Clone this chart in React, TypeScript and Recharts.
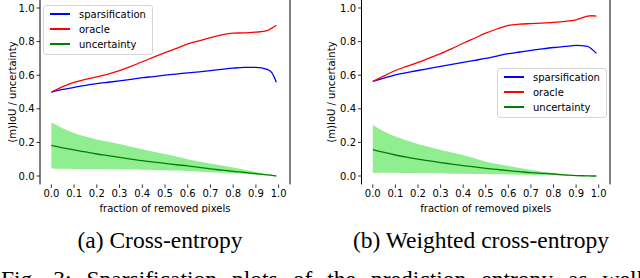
import React from 'react';
import { ComposedChart, Line, Area, XAxis, YAxis, ReferenceLine, Legend } from 'recharts';

const fractions = [0, 0.05, 0.1, 0.15, 0.2, 0.25, 0.3, 0.35, 0.4, 0.45, 0.5, 0.55, 0.6, 0.65, 0.7, 0.75, 0.8, 0.85, 0.9, 0.95, 0.97, 0.99];

const sparsA = [0.50, 0.515, 0.528, 0.54, 0.55, 0.558, 0.566, 0.575, 0.585, 0.592, 0.60, 0.607, 0.614, 0.62, 0.627, 0.635, 0.642, 0.646, 0.646, 0.635, 0.615, 0.558];
const oracleA = [0.50, 0.532, 0.558, 0.575, 0.59, 0.607, 0.627, 0.652, 0.68, 0.707, 0.734, 0.76, 0.786, 0.805, 0.823, 0.84, 0.85, 0.852, 0.856, 0.866, 0.88, 0.897];
const meanA = [0.182, 0.168, 0.155, 0.143, 0.131, 0.121, 0.111, 0.101, 0.091, 0.083, 0.075, 0.067, 0.06, 0.051, 0.042, 0.035, 0.028, 0.021, 0.014, 0.007, 0.004, 0.0];
const upperA = [0.32, 0.284, 0.256, 0.235, 0.218, 0.204, 0.19, 0.174, 0.159, 0.145, 0.131, 0.116, 0.10, 0.087, 0.075, 0.062, 0.05, 0.037, 0.024, 0.011, 0.006, 0.0];
const lowerA = [0.045, 0.043, 0.042, 0.041, 0.041, 0.04, 0.04, 0.038, 0.037, 0.036, 0.034, 0.032, 0.03, 0.026, 0.022, 0.019, 0.016, 0.012, 0.008, 0.004, 0.002, 0.0];

const sparsB = [0.563, 0.583, 0.602, 0.615, 0.628, 0.64, 0.652, 0.664, 0.676, 0.688, 0.70, 0.714, 0.728, 0.738, 0.748, 0.757, 0.765, 0.771, 0.777, 0.772, 0.755, 0.73];
const oracleB = [0.563, 0.596, 0.628, 0.652, 0.676, 0.702, 0.728, 0.758, 0.79, 0.82, 0.85, 0.875, 0.897, 0.904, 0.907, 0.91, 0.914, 0.92, 0.93, 0.952, 0.954, 0.952];
const meanB = [0.157, 0.14, 0.125, 0.112, 0.10, 0.09, 0.08, 0.071, 0.062, 0.054, 0.046, 0.039, 0.032, 0.026, 0.02, 0.016, 0.012, 0.007, 0.002, 0.001, 0.0, 0.0];
const upperB = [0.304, 0.265, 0.235, 0.211, 0.19, 0.172, 0.155, 0.14, 0.125, 0.105, 0.085, 0.072, 0.06, 0.048, 0.036, 0.026, 0.016, 0.008, 0.002, 0.001, 0.0, 0.0];
const lowerB = [0.018, 0.02, 0.02, 0.018, 0.017, 0.016, 0.016, 0.014, 0.013, 0.012, 0.012, 0.01, 0.009, 0.008, 0.008, 0.006, 0.004, 0.002, 0.0, 0.0, 0.0, 0.0];

const xTicks = [0, 0.1, 0.2, 0.3, 0.4, 0.5, 0.6, 0.7, 0.8, 0.9, 1.0];
const yTicks = [0, 0.2, 0.4, 0.6, 0.8, 1.0];
const seriesNames = ['sparsification', 'oracle', 'uncertainty'];
const seriesColors = ['#0000ff', '#ff0000', '#008000'];
const captionA = '(a) Cross-entropy';
const captionB = '(b) Weighted cross-entropy';
const figCaption = 'Fig. 3: Sparsification plots of the prediction entropy as well';
const xLabel = 'fraction of removed pixels';
const yLabel = '(m)IoU / uncertainty';

function build(spars: number[], oracle: number[], mean: number[], lo: number[], hi: number[]) {
  return fractions.map((f, i) => ({ f, spars: spars[i], oracle: oracle[i], mean: mean[i], band: [lo[i], hi[i]] }));
}

const dataA = build(sparsA, oracleA, meanA, lowerA, upperA);
const dataB = build(sparsB, oracleB, meanB, lowerB, upperB);

const FONT = '"DejaVu Sans", sans-serif';
const SERIF = '"Liberation Serif", "Times New Roman", serif';

const LegendBox = () => (
  <div style={{
    width: 110, boxSizing: 'border-box', border: '1px solid #d6d6d6', borderRadius: 3,
    background: 'rgba(255,255,255,0.8)', paddingTop: 0.5, paddingBottom: 2, fontFamily: FONT, fontSize: 10, color: '#000',
  }}>
    {seriesNames.map((n, i) => (
      <div key={n} style={{ height: 15, display: 'flex', alignItems: 'center' }}>
        <div style={{ marginLeft: 6, width: 20, height: 1.4, background: seriesColors[i] }} />
        <div style={{ marginLeft: 9, lineHeight: '15px' }}>{n}</div>
      </div>
    ))}
  </div>
);

function Panel({ data, left, marginLeft, legendPos, labelDx }: any) {
  return (
    <div style={{ position: 'absolute', left, top: -20, width: 320, height: 233 }}>
      <ComposedChart width={320} height={233} data={data}
        margin={{ top: 19.6, left: marginLeft, right: 30, bottom: 0.6 }}>
        <XAxis dataKey="f" type="number" domain={[-0.05, 1.05]} ticks={xTicks} interval={0}
          allowDataOverflow tickFormatter={(v: number) => v.toFixed(1)} axisLine={false}
          tickLine={{ stroke: '#000', strokeWidth: 0.8 }} tickSize={3.5} tickMargin={1.5}
          tick={{ fontSize: 10, fontFamily: FONT, fill: '#000' }} height={28}
          label={{ value: xLabel, position: 'insideBottom', offset: 0, fontSize: 10, fontFamily: FONT, fill: '#000' }} />
        <YAxis type="number" domain={[-0.05, 1.05]} ticks={yTicks} allowDataOverflow width={30}
          tickFormatter={(v: number) => v.toFixed(1)} axisLine={{ stroke: '#000', strokeWidth: 1 }}
          tickLine={{ stroke: '#000', strokeWidth: 0.8 }} tickSize={3.5} tickMargin={2}
          tick={{ fontSize: 10, fontFamily: FONT, fill: '#000' }}
          label={{ value: yLabel, angle: -90, position: 'center', dx: labelDx, fontSize: 10, fontFamily: FONT, fill: '#000' }} />
        <ReferenceLine x={1.05} stroke="#000" strokeWidth={1} ifOverflow="visible" />
        <Area dataKey="band" type="monotone" stroke="none" fill="#90ee90" fillOpacity={1} isAnimationActive={false} legendType="none" />
        <Line dataKey="spars" name={seriesNames[0]} type="monotone" stroke={seriesColors[0]} strokeWidth={1.3} dot={false} isAnimationActive={false} />
        <Line dataKey="oracle" name={seriesNames[1]} type="monotone" stroke={seriesColors[1]} strokeWidth={1.3} dot={false} isAnimationActive={false} />
        <Line dataKey="mean" name={seriesNames[2]} type="monotone" stroke={seriesColors[2]} strokeWidth={1.3} dot={false} isAnimationActive={false} />
        <Legend layout="horizontal" verticalAlign="middle" align="center" content={() => <LegendBox />}
          wrapperStyle={{ position: 'absolute', left: legendPos[0], top: legendPos[1], width: 110, height: 48 }} />
      </ComposedChart>
    </div>
  );
}

const captionStyle: React.CSSProperties = {
  position: 'absolute', top: 228.5, fontFamily: SERIF, fontSize: 23.5,
  lineHeight: '23.5px', color: '#000', whiteSpace: 'nowrap', transform: 'translateX(-50%)',
};

export default function App() {
  return (
    <div style={{ position: 'absolute', left: 0, top: 0, width: 640, height: 278, overflow: 'hidden', background: '#fff' }}>
      <Panel data={dataA} left={0} marginLeft={10} legendPos={[43, 25]} labelDx={-13} />
      <Panel data={dataB} left={320} marginLeft={11.5} legendPos={[177, 88]} labelDx={-15} />
      <div style={{ ...captionStyle, left: 160 }}>{captionA}</div>
      <div style={{ ...captionStyle, left: 481 }}>{captionB}</div>
      <div style={{
        position: 'absolute', top: 268, left: 1, width: 642, fontFamily: SERIF,
        fontSize: 23.5, lineHeight: '23.5px', color: '#000', textAlign: 'justify', textAlignLast: 'justify', whiteSpace: 'nowrap',
      }}>{figCaption}</div>
    </div>
  );
}
